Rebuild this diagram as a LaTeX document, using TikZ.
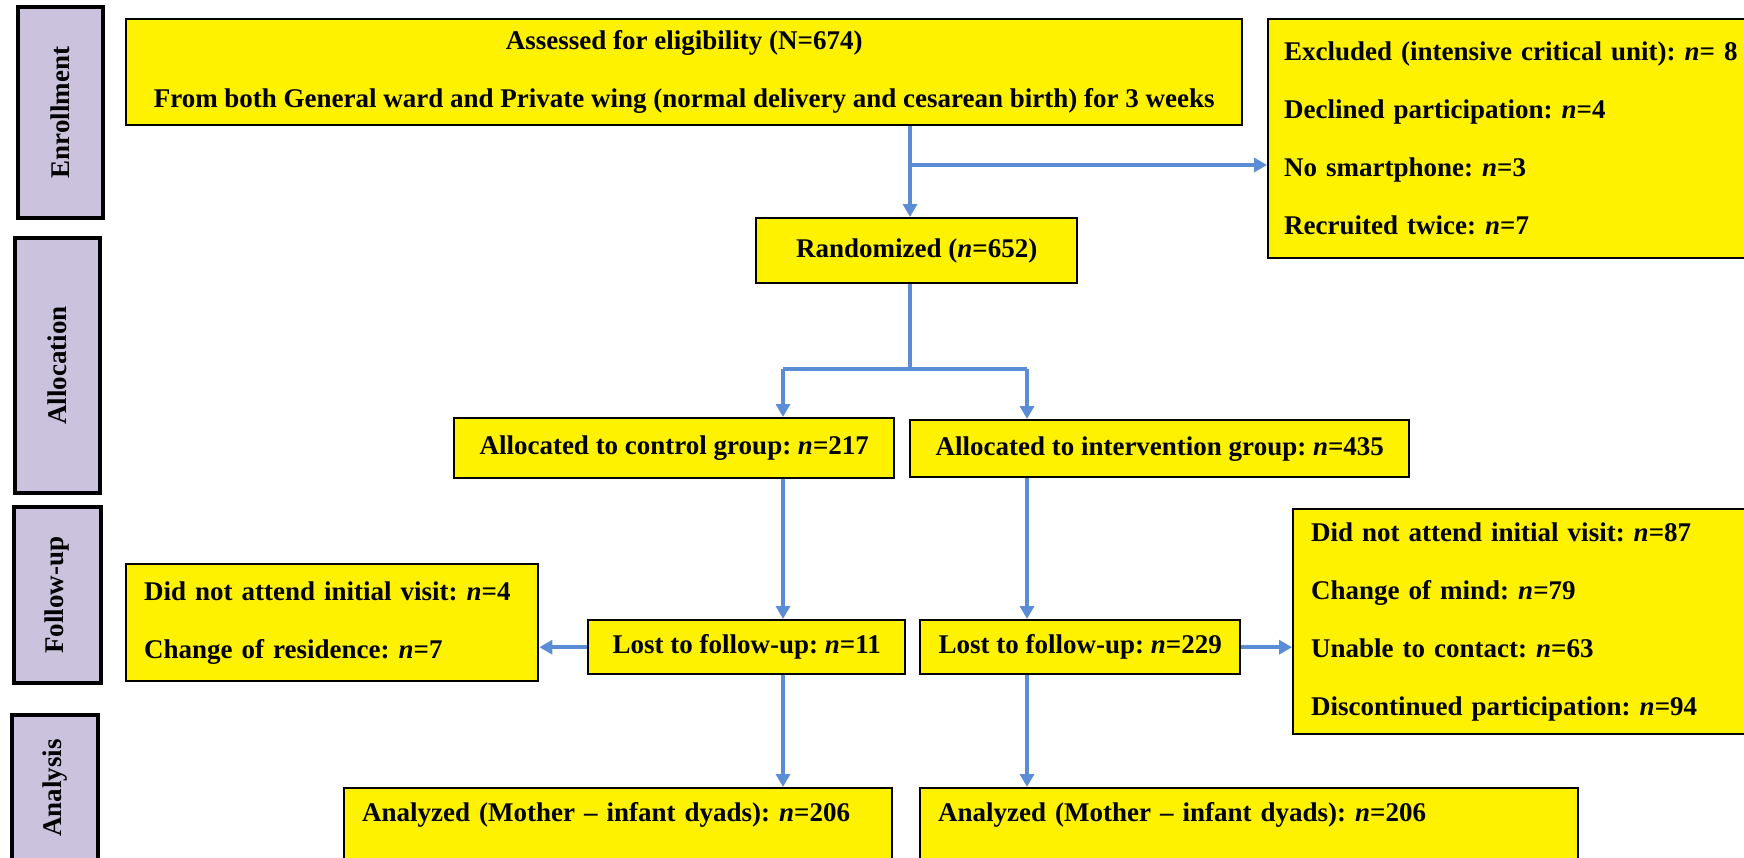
\documentclass[tikz,border=0pt]{standalone}
\usepackage{fontspec}
\setmainfont{Liberation Serif}
\usepackage{tikz}
\usetikzlibrary{arrows.meta}
\definecolor{Pfeilblau}{RGB}{91,141,214}
\definecolor{Lila}{RGB}{203,195,222}
\tikzset{
  Kasten/.style={draw, fill=yellow, line width=1.2pt, anchor=north west,
    inner xsep=9pt, inner ysep=0pt, align=center}, % gelbe Kaesten
  KastenL/.style={Kasten, align=left, text width=#1}, % linksbuendig
  Phase/.style={draw, line width=2.2pt, fill=Lila, rotate=90, inner sep=0pt}, % Phasen links
  Linie/.style={draw=Pfeilblau, line width=2pt}, % Verbindungen
  Pfeil/.style={Linie, ->} % Pfeile
}
\begin{document}
\frenchspacing
\begin{tikzpicture}[x=0.5pt, y=-0.5pt,
font=\fontsize{13.5}{29}\selectfont\bfseries,
>={Triangle[width=7pt,length=6.5pt]} % Voreinstellung fuer Pfeilspitzen
]
\path[use as bounding box, clip] (0,0) rectangle (1744,857);

%Phasen
\node[Phase, minimum width=105.5pt, minimum height=42.5pt] (enr) at (60.5,112.5) {Enrollment};
\node[Phase, minimum width=127.5pt, minimum height=42.5pt] (alloc) at (57.5,365.5) {Allocation};
\node[Phase, minimum width=88pt, minimum height=43.5pt] (fol) at (57.5,595) {Follow-up};
\node[Phase, minimum width=73pt, minimum height=43pt] (ana) at (55,788) {Analysis};

%Kaesten
\node[Kasten, minimum width=558pt, minimum height=53pt] (elig) at (125,18)
  {Assessed for eligibility (N=674)\\From both General ward and Private wing (normal delivery and cesarean birth) for 3 weeks};
\node[KastenL=232pt, minimum height=119.5pt, inner xsep=8pt] (excl) at (1267,18)
  {Excluded (intensive critical unit): \textit{n}= 8\\Declined participation: \textit{n}=4\\No smartphone: \textit{n}=3\\Recruited twice: \textit{n}=7};
\node[Kasten, minimum width=160.5pt, minimum height=32.5pt] (rand) at (755,217) {Randomized (\textit{n}=652)};
\node[Kasten, minimum width=220pt, minimum height=30pt] (ctrl) at (453,417) {Allocated to control group: \textit{n}=217};
\node[Kasten, minimum width=249.5pt, minimum height=28.5pt] (intv) at (909,419) {Allocated to intervention group: \textit{n}=435};
\node[Kasten, minimum width=158.5pt, minimum height=27pt] (lostC) at (587,619) {Lost to follow-up: \textit{n}=11};
\node[Kasten, minimum width=160pt, minimum height=27pt] (lostI) at (919,619) {Lost to follow-up: \textit{n}=229};
\node[KastenL=188pt, minimum height=58.5pt] (folC) at (125,563)
  {Did not attend initial visit: \textit{n}=4\\Change of residence: \textit{n}=7};
\node[KastenL=222pt, minimum height=112.5pt] (folI) at (1292,508)
  {Did not attend initial visit: \textit{n}=87\\Change of mind: \textit{n}=79\\Unable to contact: \textit{n}=63\\Discontinued participation: \textit{n}=94};
\node[KastenL=256pt, text height=10pt, text depth=50pt, inner ysep=6.5pt] (anaC) at (343,787)
  {Analyzed (Mother -- infant dyads): \textit{n}=206};
\node[KastenL=311pt, text height=10pt, text depth=50pt, inner ysep=6.5pt] (anaI) at (919,787)
  {Analyzed (Mother -- infant dyads): \textit{n}=206};

%Knoten der Verbindungen
\coordinate (gabel) at (910,165);
\coordinate (teil) at (910,369);
\coordinate (li) at (783,369);
\coordinate (re) at (1027,369);

%Pfeile
\draw[Pfeil] (elig.south -| gabel) -- (rand.north -| gabel);
\draw[Pfeil] (gabel) -- (gabel -| excl.west);
\draw[Linie] (rand.south -| teil) -- (teil);
\draw[Linie] (li) -- (re);
\draw[Pfeil] (li) -- (ctrl.north -| li);
\draw[Pfeil] (re) -- (intv.north -| re);
\draw[Pfeil] (ctrl.south -| li) -- (lostC.north -| li);
\draw[Pfeil] (intv.south -| re) -- (lostI.north -| re);
\draw[Pfeil] (lostC.west) -- (folC.east |- lostC.west);
\draw[Pfeil] (lostI.east) -- (folI.west |- lostI.east);
\draw[Pfeil] (lostC.south -| li) -- (anaC.north -| li);
\draw[Pfeil] (lostI.south -| re) -- (anaI.north -| re);

\end{tikzpicture}
\end{document}
